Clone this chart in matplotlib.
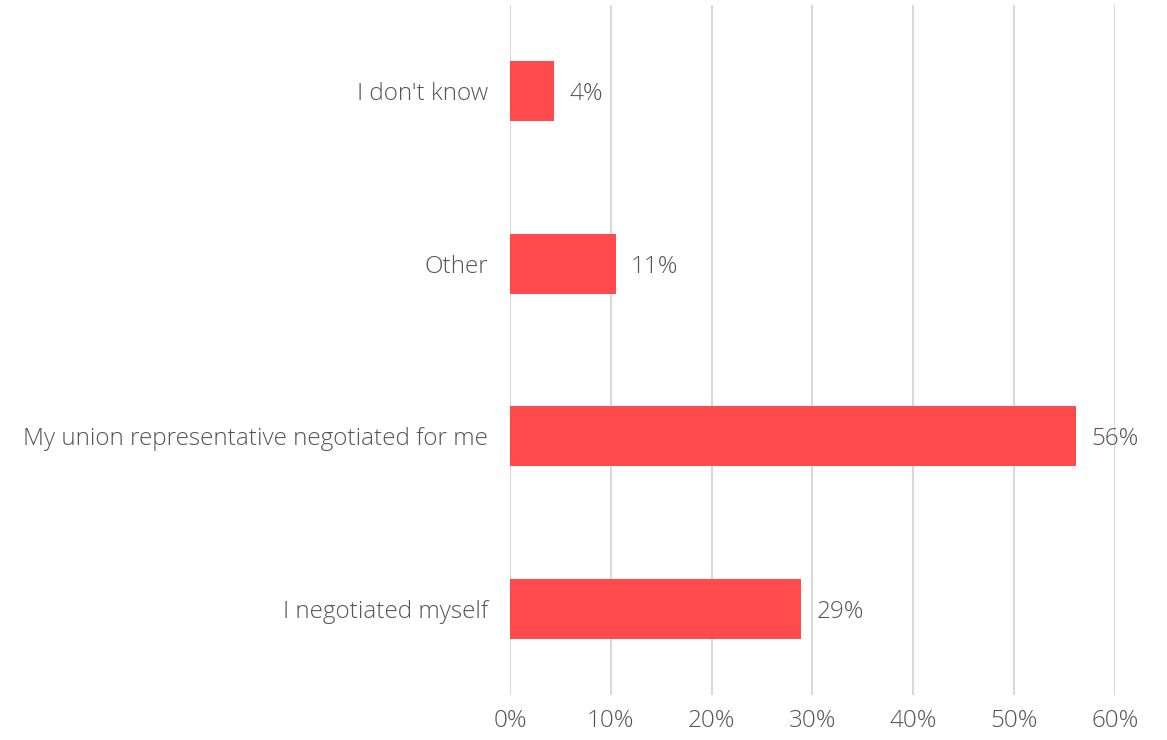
import matplotlib.pyplot as plt

# ---------- DATA ----------
categories = ["I negotiated myself", "My union representative negotiated for me", "Other", "I don't know"]
values = [28.9, 56.1, 10.5, 4.4]
labels = ["29%", "56%", "11%", "4%"]
xticks = [0, 10, 20, 30, 40, 50, 60]
# --------------------------

plt.rcParams['font.family'] = ['Open Sans', 'DejaVu Sans']
text_color = "#555555"
fsize = 17.5

fig = plt.figure(figsize=(11.67, 7.4), dpi=100)
ax = fig.add_axes([0.437, 0.0608, 0.5184, 0.9324])

ypos = range(len(categories))
ax.barh(ypos, values, height=0.35, color="#FF4B4B", zorder=3)

for y, v, lab in zip(ypos, values, labels):
    ax.annotate(lab, (v, y), xytext=(11, 0), textcoords="offset points",
                va="center_baseline", ha="left", fontsize=fsize, color=text_color,
                fontweight="light")

ax.set_xlim(0, 60)
ax.set_ylim(-0.5, len(categories) - 0.5)
ax.set_xticks(xticks)
ax.set_xticklabels([f"{t}%" for t in xticks])
ax.set_yticks(list(ypos))
ax.set_yticklabels(categories, va="center_baseline")

ax.grid(axis="x", color="#D9D9D9", linewidth=1.5, zorder=0)
for s in ax.spines.values():
    s.set_visible(False)
ax.tick_params(axis="both", length=0, labelsize=fsize, labelcolor=text_color)
ax.tick_params(axis="x", pad=10)
ax.tick_params(axis="y", pad=16)
for t in ax.get_xticklabels() + ax.get_yticklabels():
    t.set_fontweight("light")

fig.savefig("out.png", dpi=100)
